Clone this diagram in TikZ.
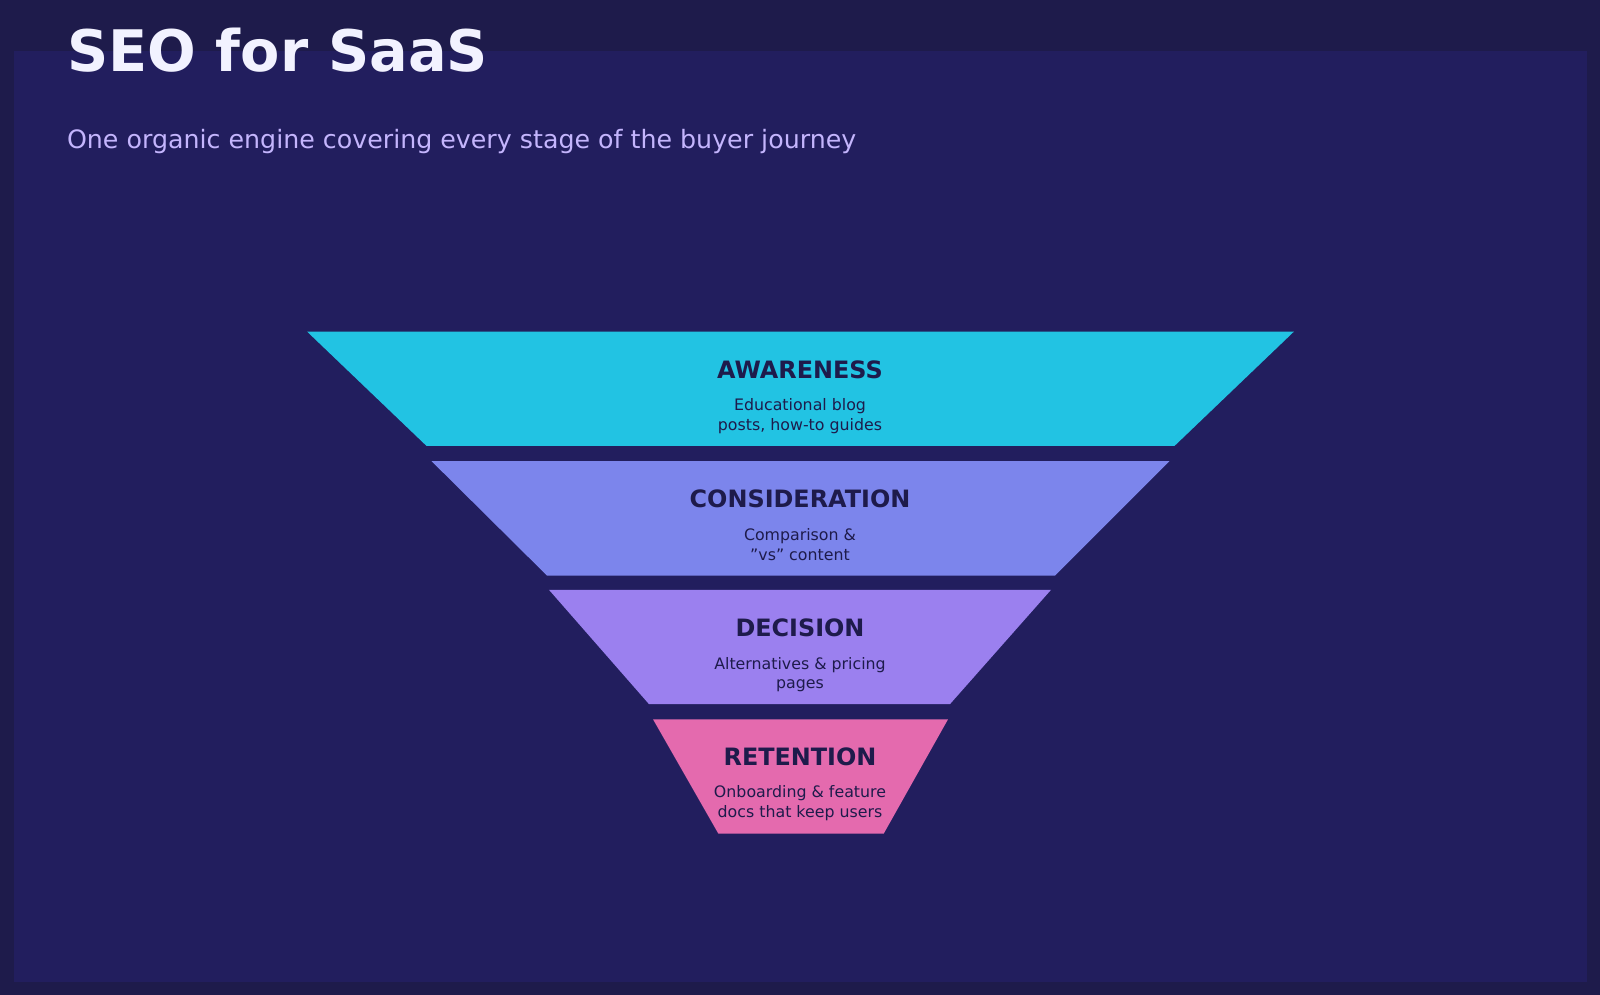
\documentclass[tikz,border=0pt]{standalone}
\usepackage{fontspec}
\setmainfont{DejaVu Sans}
\begin{document}
\begin{tikzpicture}[x=0.010204cm,y=-0.010204cm,
  lab/.style={font=\fontsize{6.8pt}{8pt}\selectfont\bfseries,text=labc,anchor=center},
  sub/.style={font=\fontsize{4.5pt}{5.6pt}\selectfont,text=labc,align=center,anchor=center}]
\definecolor{outerbg}{HTML}{1E1B4B}
\definecolor{panel}{HTML}{221E5E}
\definecolor{labc}{HTML}{1E1B4B}
\definecolor{cA}{HTML}{22C3E3}
\definecolor{cB}{HTML}{7C85EC}
\definecolor{cC}{HTML}{9B80EF}
\definecolor{cD}{HTML}{E46AAE}
\definecolor{subt}{HTML}{C4B5FD}
\useasboundingbox (0,0) rectangle (1568,975);
\fill[outerbg] (0,0) rectangle (1568,975);
\fill[panel] (14,50) rectangle (1555,962);
\node[anchor=base west,inner sep=0,text=white!95!blue,font=\fontsize{16.3pt}{18pt}\selectfont\bfseries] (title) at (65,70) {SEO for SaaS};
\node[anchor=base west,inner sep=0,text=subt,font=\fontsize{7.2pt}{9pt}\selectfont] (subtitle) at (65,146) {One organic engine covering every stage of the buyer journey};
\fill[cA] (301,325) -- (1268,325) -- (1151,437) -- (418,437) -- cycle;
\fill[cB] (423,452) -- (1146,452) -- (1034,564) -- (536,564) -- cycle;
\fill[cC] (538,578) -- (1030,578) -- (931,690) -- (636,690) -- cycle;
\fill[cD] (640,705) -- (929,705) -- (866,817) -- (704,817) -- cycle;
\node[lab] (l1) at (784,362) {AWARENESS};
\node[sub] (s1) at (784,408) {Educational blog\\posts, how-to guides};
\node[lab] (l2) at (784,489) {CONSIDERATION};
\node[sub] (s2) at (784,534) {Comparison \&\\\symbol{34}vs\symbol{34} content};
\node[lab] (l3) at (784,615) {DECISION};
\node[sub] (s3) at (784,661) {Alternatives \& pricing\\pages};
\node[lab] (l4) at (784,742) {RETENTION};
\node[sub] (s4) at (784,787) {Onboarding \& feature\\docs that keep users};
\end{tikzpicture}
\end{document}
